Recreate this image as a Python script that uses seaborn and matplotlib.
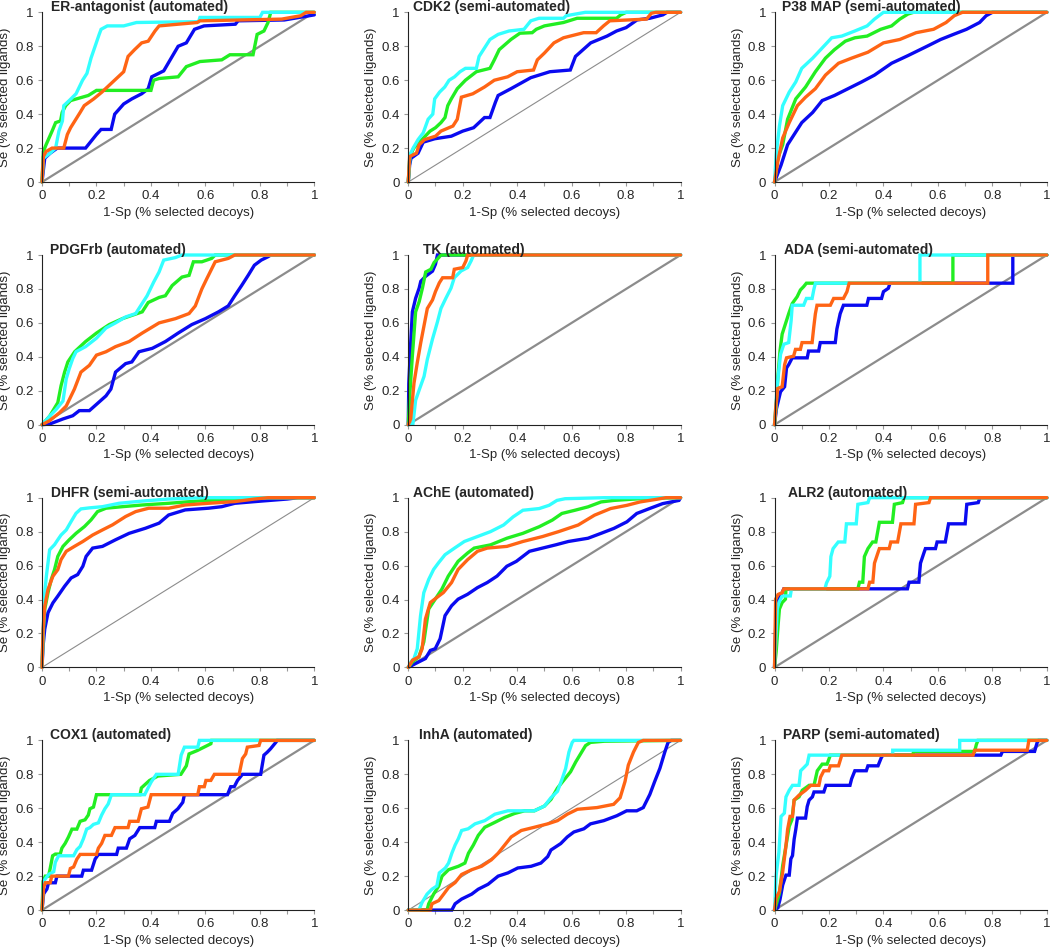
import numpy as np
import pandas as pd
import seaborn as sns
import matplotlib
matplotlib.use("Agg")
import matplotlib.pyplot as plt
from matplotlib.ticker import MultipleLocator, FuncFormatter

# ROC points (1-Sp, Se), one list per method and target
er_blue = [(0,0),(0.01,0.14),(0.03,0.17),(0.056,0.2),(0.16,0.2),(0.2,0.28),(0.217,0.31),(0.254,0.31),(0.267,0.4),(0.3,0.46),(0.33,0.49),(0.366,0.52),(0.39,0.55),(0.403,0.62),(0.447,0.655),(0.478,0.74),(0.5,0.8),(0.53,0.82),(0.56,0.9),(0.595,0.92),(0.71,0.93),(0.72,0.95),(0.89,0.955),(1.0,0.985)]
er_green = [(0,0),(0.005,0.18),(0.015,0.22),(0.037,0.3),(0.05,0.35),(0.068,0.36),(0.074,0.41),(0.087,0.45),(0.105,0.48),(0.17,0.51),(0.2,0.54),(0.4,0.54),(0.41,0.6),(0.43,0.61),(0.5,0.62),(0.53,0.68),(0.58,0.71),(0.66,0.72),(0.69,0.75),(0.775,0.75),(0.79,0.87),(0.815,0.89),(0.83,0.94),(0.84,1.0),(1,1)]
er_cyan = [(0,0),(0.005,0.14),(0.03,0.17),(0.05,0.2),(0.062,0.3),(0.075,0.36),(0.08,0.45),(0.1,0.48),(0.125,0.52),(0.14,0.57),(0.149,0.6),(0.165,0.64),(0.18,0.73),(0.195,0.8),(0.21,0.87),(0.217,0.9),(0.24,0.92),(0.3,0.92),(0.347,0.94),(0.575,0.945),(0.58,0.97),(0.8,0.97),(0.81,1.0),(1,1)]
er_orange = [(0,0),(0.005,0.15),(0.015,0.18),(0.037,0.2),(0.08,0.2),(0.093,0.28),(0.105,0.32),(0.14,0.41),(0.155,0.45),(0.19,0.49),(0.22,0.53),(0.26,0.59),(0.28,0.62),(0.3,0.65),(0.316,0.74),(0.34,0.78),(0.366,0.82),(0.39,0.83),(0.415,0.89),(0.43,0.92),(0.57,0.94),(0.58,0.95),(0.88,0.96),(0.95,0.98),(0.97,1.0),(1,1)]

cdk_blue = [(0,0),(0.005,0.1),(0.01,0.14),(0.036,0.17),(0.055,0.235),(0.097,0.255),(0.158,0.27),(0.2,0.3),(0.24,0.32),(0.28,0.38),(0.3,0.38),(0.32,0.47),(0.33,0.51),(0.377,0.55),(0.45,0.615),(0.52,0.65),(0.595,0.66),(0.614,0.74),(0.67,0.82),(0.73,0.86),(0.765,0.89),(0.8,0.91),(0.84,0.955),(0.887,0.965),(0.935,0.985),(0.95,1.0),(1,1)]
cdk_green = [(0,0),(0.006,0.15),(0.02,0.2),(0.05,0.25),(0.08,0.3),(0.1,0.32),(0.12,0.35),(0.135,0.38),(0.145,0.45),(0.158,0.49),(0.18,0.55),(0.21,0.6),(0.25,0.65),(0.3,0.67),(0.316,0.72),(0.334,0.78),(0.377,0.84),(0.41,0.877),(0.455,0.88),(0.47,0.9),(0.5,0.92),(0.57,0.94),(0.62,0.965),(0.765,0.965),(0.78,0.985),(0.8,1.0),(1,1)]
cdk_cyan = [(0,0),(0.006,0.16),(0.018,0.2),(0.036,0.25),(0.055,0.29),(0.073,0.37),(0.09,0.4),(0.097,0.49),(0.115,0.53),(0.134,0.56),(0.15,0.6),(0.17,0.62),(0.19,0.65),(0.21,0.67),(0.25,0.67),(0.26,0.74),(0.28,0.79),(0.3,0.84),(0.33,0.87),(0.37,0.89),(0.425,0.9),(0.45,0.95),(0.48,0.965),(0.57,0.965),(0.58,0.98),(0.65,1.0),(1,1)]
cdk_orange = [(0,0),(0.005,0.15),(0.03,0.17),(0.04,0.22),(0.06,0.25),(0.1,0.27),(0.12,0.3),(0.164,0.33),(0.18,0.37),(0.195,0.5),(0.237,0.52),(0.28,0.56),(0.316,0.6),(0.365,0.62),(0.4,0.65),(0.46,0.66),(0.474,0.72),(0.5,0.76),(0.535,0.82),(0.57,0.85),(0.644,0.88),(0.69,0.88),(0.717,0.92),(0.74,0.95),(0.875,0.96),(0.893,0.995),(0.91,1.0),(1,1)]

p38_blue = [(0,0),(0.024,0.1),(0.048,0.22),(0.072,0.28),(0.1,0.35),(0.14,0.41),(0.175,0.48),(0.22,0.51),(0.27,0.55),(0.32,0.59),(0.367,0.63),(0.43,0.7),(0.49,0.745),(0.56,0.8),(0.61,0.84),(0.657,0.87),(0.705,0.9),(0.753,0.94),(0.777,0.98),(0.8,1.0),(1,1)]
p38_green = [(0,0),(0.012,0.14),(0.03,0.22),(0.048,0.37),(0.078,0.49),(0.114,0.56),(0.15,0.65),(0.187,0.73),(0.22,0.78),(0.26,0.83),(0.295,0.85),(0.34,0.86),(0.39,0.9),(0.43,0.92),(0.46,0.96),(0.49,0.99),(0.51,1.0),(1,1)]
p38_cyan = [(0,0),(0.006,0.16),(0.018,0.33),(0.03,0.45),(0.054,0.53),(0.078,0.59),(0.1,0.67),(0.14,0.73),(0.175,0.79),(0.21,0.85),(0.247,0.86),(0.295,0.89),(0.34,0.92),(0.367,0.96),(0.4,1.0),(1,1)]
p38_orange = [(0,0),(0.012,0.12),(0.03,0.26),(0.054,0.35),(0.084,0.45),(0.114,0.5),(0.15,0.55),(0.187,0.63),(0.235,0.7),(0.283,0.73),(0.343,0.765),(0.4,0.82),(0.46,0.84),(0.52,0.88),(0.584,0.9),(0.63,0.94),(0.66,0.98),(0.69,1.0),(1,1)]

pdg_blue = [(0,0),(0.028,0.004),(0.077,0.034),(0.113,0.053),(0.137,0.083),(0.174,0.083),(0.2,0.12),(0.235,0.17),(0.253,0.21),(0.27,0.31),(0.307,0.36),(0.33,0.37),(0.356,0.43),(0.405,0.45),(0.453,0.49),(0.5,0.54),(0.55,0.59),(0.6,0.625),(0.648,0.665),(0.684,0.7),(0.708,0.76),(0.733,0.82),(0.757,0.88),(0.78,0.94),(0.805,0.97),(0.83,0.99),(0.84,1.0),(1,1)]
pdg_green = [(0,0),(0.028,0.05),(0.058,0.13),(0.07,0.23),(0.083,0.31),(0.095,0.37),(0.12,0.43),(0.16,0.49),(0.2,0.54),(0.247,0.59),(0.295,0.625),(0.368,0.665),(0.39,0.72),(0.43,0.75),(0.453,0.76),(0.478,0.82),(0.514,0.87),(0.54,0.88),(0.556,0.96),(0.587,0.96),(0.623,0.98),(0.636,1.0),(1,1)]
pdg_cyan = [(0,0),(0.028,0.05),(0.052,0.09),(0.077,0.14),(0.089,0.27),(0.1,0.33),(0.113,0.39),(0.125,0.43),(0.16,0.46),(0.2,0.51),(0.235,0.57),(0.27,0.6),(0.307,0.635),(0.344,0.655),(0.362,0.7),(0.386,0.76),(0.41,0.84),(0.43,0.9),(0.447,0.97),(0.49,0.985),(0.514,1.0),(1,1)]
pdg_orange = [(0,0),(0.028,0.024),(0.064,0.07),(0.089,0.11),(0.119,0.21),(0.143,0.31),(0.174,0.35),(0.2,0.41),(0.235,0.43),(0.27,0.46),(0.32,0.49),(0.368,0.54),(0.43,0.6),(0.49,0.625),(0.54,0.655),(0.563,0.7),(0.587,0.8),(0.605,0.86),(0.636,0.96),(0.684,0.98),(0.708,1.0),(1,1)]

tk_blue = [(0,0),(0.002,0.245),(0.009,0.485),(0.015,0.665),(0.027,0.745),(0.04,0.805),(0.046,0.845),(0.064,0.875),(0.089,0.905),(0.1,0.946),(0.107,1.0),(1,1)]
tk_green = [(0,0),(0.005,0.164),(0.015,0.405),(0.027,0.665),(0.04,0.725),(0.052,0.805),(0.064,0.9),(0.083,0.916),(0.095,0.956),(0.107,0.976),(0.12,1.0),(1,1)]
tk_cyan = [(0,0),(0.017,0.004),(0.027,0.144),(0.04,0.204),(0.058,0.285),(0.07,0.385),(0.089,0.505),(0.107,0.605),(0.12,0.685),(0.138,0.745),(0.157,0.805),(0.169,0.866),(0.194,0.906),(0.218,0.926),(0.231,0.966),(0.24,1.0),(1,1)]
tk_orange = [(0,0),(0.009,0.034),(0.021,0.245),(0.033,0.365),(0.046,0.485),(0.058,0.585),(0.07,0.685),(0.089,0.735),(0.1,0.785),(0.114,0.836),(0.126,0.866),(0.163,0.866),(0.169,0.916),(0.2,0.926),(0.212,0.966),(0.218,1.0),(1,1)]

ada_blue = [(0,0),(0.007,0.094),(0.022,0.194),(0.037,0.224),(0.044,0.334),(0.052,0.354),(0.065,0.394),(0.12,0.394),(0.125,0.434),(0.162,0.434),(0.168,0.484),(0.223,0.484),(0.229,0.564),(0.241,0.654),(0.253,0.704),(0.339,0.704),(0.345,0.744),(0.393,0.744),(0.4,0.784),(0.418,0.804),(0.424,0.834),(0.875,0.834),(0.875,1.0),(1,1)]
ada_green = [(0,0),(0.007,0.134),(0.012,0.274),(0.02,0.434),(0.028,0.534),(0.04,0.594),(0.052,0.654),(0.065,0.714),(0.083,0.754),(0.095,0.794),(0.107,0.814),(0.117,0.834),(0.655,0.834),(0.655,1.0),(1,1)]
ada_cyan = [(0,0),(0.01,0.234),(0.022,0.414),(0.034,0.474),(0.052,0.484),(0.061,0.614),(0.065,0.704),(0.107,0.704),(0.117,0.744),(0.138,0.744),(0.144,0.794),(0.15,0.834),(0.534,0.834),(0.534,1.0),(1,1)]
ada_orange = [(0,0),(0.005,0.114),(0.012,0.214),(0.028,0.224),(0.037,0.354),(0.044,0.394),(0.07,0.404),(0.077,0.444),(0.095,0.444),(0.101,0.484),(0.138,0.484),(0.144,0.574),(0.15,0.654),(0.156,0.704),(0.205,0.704),(0.217,0.744),(0.253,0.744),(0.266,0.784),(0.274,0.834),(0.783,0.834),(0.783,1.0),(1,1)]

dhfr_blue = [(0,0),(0.004,0.127),(0.01,0.225),(0.022,0.322),(0.04,0.38),(0.058,0.42),(0.083,0.478),(0.107,0.527),(0.131,0.547),(0.15,0.596),(0.162,0.654),(0.186,0.703),(0.222,0.713),(0.27,0.752),(0.32,0.79),(0.38,0.82),(0.43,0.85),(0.465,0.898),(0.526,0.928),(0.611,0.938),(0.66,0.947),(0.708,0.967),(0.805,0.98),(0.9,0.992),(0.94,1.0),(1,1)]
dhfr_green = [(0,0),(0.004,0.186),(0.01,0.342),(0.022,0.44),(0.034,0.518),(0.046,0.576),(0.058,0.654),(0.077,0.713),(0.1,0.752),(0.125,0.79),(0.156,0.83),(0.18,0.869),(0.204,0.918),(0.235,0.938),(0.295,0.947),(0.368,0.957),(0.465,0.967),(0.587,0.982),(0.708,0.992),(0.83,1.0),(1,1)]
dhfr_cyan = [(0,0),(0.004,0.205),(0.01,0.44),(0.016,0.537),(0.022,0.615),(0.028,0.693),(0.046,0.723),(0.058,0.752),(0.07,0.78),(0.089,0.81),(0.107,0.86),(0.125,0.908),(0.143,0.934),(0.174,0.94),(0.222,0.947),(0.283,0.967),(0.368,0.98),(0.465,0.992),(0.587,1.0),(1,1)]
dhfr_orange = [(0,0),(0.004,0.225),(0.01,0.36),(0.022,0.459),(0.04,0.537),(0.058,0.576),(0.07,0.635),(0.089,0.684),(0.119,0.713),(0.15,0.742),(0.186,0.78),(0.222,0.81),(0.259,0.84),(0.307,0.889),(0.344,0.918),(0.392,0.938),(0.465,0.938),(0.526,0.957),(0.611,0.967),(0.708,0.977),(0.78,0.992),(0.83,1.0),(1,1)]

ache_blue = [(0,0),(0.027,0.023),(0.063,0.052),(0.081,0.1),(0.099,0.11),(0.117,0.169),(0.135,0.305),(0.159,0.363),(0.183,0.402),(0.218,0.431),(0.254,0.47),(0.29,0.5),(0.326,0.538),(0.362,0.596),(0.397,0.625),(0.445,0.684),(0.493,0.703),(0.541,0.722),(0.588,0.742),(0.66,0.761),(0.708,0.79),(0.755,0.819),(0.803,0.858),(0.839,0.907),(0.886,0.936),(0.934,0.965),(0.994,0.984),(1,1)]
ache_green = [(0,0),(0.016,0.033),(0.039,0.062),(0.057,0.15),(0.075,0.344),(0.099,0.402),(0.123,0.46),(0.147,0.538),(0.183,0.625),(0.218,0.674),(0.242,0.703),(0.302,0.722),(0.362,0.761),(0.421,0.79),(0.481,0.829),(0.529,0.868),(0.564,0.907),(0.612,0.926),(0.66,0.946),(0.708,0.975),(0.755,0.984),(0.851,0.994),(1,1)]
ache_cyan = [(0,0),(0.01,0.033),(0.021,0.052),(0.033,0.11),(0.045,0.305),(0.057,0.44),(0.075,0.518),(0.093,0.577),(0.111,0.616),(0.135,0.664),(0.17,0.703),(0.206,0.742),(0.254,0.771),(0.302,0.8),(0.35,0.839),(0.385,0.887),(0.421,0.926),(0.481,0.936),(0.517,0.955),(0.546,0.984),(0.576,0.994),(0.72,1.0),(1,1)]
ache_orange = [(0,0),(0.016,0.043),(0.039,0.062),(0.051,0.11),(0.063,0.285),(0.081,0.382),(0.105,0.412),(0.129,0.441),(0.159,0.5),(0.183,0.577),(0.218,0.635),(0.254,0.684),(0.29,0.703),(0.362,0.713),(0.421,0.742),(0.493,0.771),(0.552,0.8),(0.624,0.839),(0.684,0.897),(0.743,0.936),(0.803,0.955),(0.851,0.975),(0.91,0.99),(0.946,1.0),(1,1)]

alr_blue = [(0,0),(0.006,0.344),(0.016,0.402),(0.028,0.44),(0.034,0.463),(0.488,0.463),(0.494,0.502),(0.53,0.502),(0.536,0.614),(0.548,0.672),(0.554,0.7),(0.591,0.7),(0.597,0.739),(0.627,0.739),(0.639,0.846),(0.7,0.846),(0.706,0.961),(0.748,0.971),(0.754,1.0),(1,1)]
alr_green = [(0,0),(0.006,0.093),(0.013,0.247),(0.018,0.344),(0.028,0.382),(0.04,0.402),(0.042,0.463),(0.306,0.463),(0.312,0.502),(0.324,0.502),(0.33,0.653),(0.343,0.7),(0.36,0.739),(0.372,0.739),(0.385,0.855),(0.433,0.855),(0.44,0.961),(0.47,0.971),(0.476,1.0),(1,1)]
alr_cyan = [(0,0),(0.01,0.344),(0.016,0.382),(0.028,0.421),(0.058,0.421),(0.062,0.463),(0.185,0.463),(0.191,0.498),(0.203,0.537),(0.207,0.653),(0.215,0.7),(0.234,0.739),(0.258,0.739),(0.264,0.846),(0.3,0.846),(0.306,0.961),(0.343,0.971),(0.349,1.0),(1,1)]
alr_orange = [(0,0),(0.004,0.402),(0.013,0.43),(0.028,0.44),(0.034,0.463),(0.343,0.463),(0.349,0.502),(0.361,0.502),(0.367,0.614),(0.379,0.672),(0.385,0.7),(0.421,0.7),(0.427,0.739),(0.452,0.739),(0.464,0.846),(0.512,0.846),(0.518,0.961),(0.567,0.971),(0.573,1.0),(1,1)]

cox_blue = [(0,0),(0.006,0.096),(0.018,0.124),(0.024,0.161),(0.049,0.161),(0.055,0.2),(0.146,0.2),(0.152,0.235),(0.182,0.235),(0.195,0.3),(0.207,0.328),(0.274,0.328),(0.28,0.365),(0.31,0.365),(0.322,0.42),(0.341,0.44),(0.359,0.486),(0.414,0.486),(0.42,0.523),(0.468,0.523),(0.48,0.57),(0.499,0.597),(0.517,0.635),(0.523,0.68),(0.681,0.68),(0.693,0.727),(0.706,0.727),(0.718,0.764),(0.736,0.8),(0.803,0.8),(0.815,0.913),(0.827,0.93),(0.839,0.95),(0.858,0.987),(0.864,1.0),(1,1)]
cox_green = [(0,0),(0.004,0.17),(0.012,0.2),(0.024,0.2),(0.03,0.245),(0.039,0.32),(0.049,0.33),(0.067,0.33),(0.073,0.365),(0.085,0.393),(0.097,0.43),(0.11,0.477),(0.128,0.477),(0.14,0.523),(0.158,0.532),(0.17,0.56),(0.176,0.597),(0.189,0.607),(0.2,0.68),(0.36,0.68),(0.365,0.72),(0.395,0.764),(0.426,0.79),(0.51,0.8),(0.53,0.85),(0.54,0.92),(0.57,0.94),(0.62,0.98),(0.623,1.0),(1,1)]
cox_cyan = [(0,0),(0.006,0.17),(0.024,0.21),(0.043,0.226),(0.049,0.282),(0.061,0.32),(0.116,0.32),(0.128,0.356),(0.14,0.375),(0.152,0.42),(0.164,0.477),(0.176,0.486),(0.189,0.505),(0.207,0.514),(0.219,0.56),(0.231,0.597),(0.243,0.625),(0.255,0.68),(0.377,0.68),(0.389,0.718),(0.401,0.755),(0.42,0.8),(0.5,0.8),(0.511,0.913),(0.523,0.96),(0.572,0.96),(0.578,1.0),(1,1)]
cox_orange = [(0,0),(0.006,0.134),(0.012,0.161),(0.03,0.161),(0.036,0.2),(0.097,0.2),(0.104,0.245),(0.116,0.254),(0.128,0.3),(0.14,0.328),(0.2,0.328),(0.207,0.365),(0.219,0.393),(0.231,0.44),(0.255,0.44),(0.268,0.486),(0.316,0.486),(0.322,0.523),(0.353,0.523),(0.365,0.597),(0.389,0.607),(0.401,0.68),(0.572,0.68),(0.578,0.727),(0.596,0.727),(0.602,0.764),(0.62,0.764),(0.633,0.8),(0.724,0.8),(0.736,0.893),(0.748,0.92),(0.754,0.96),(0.797,0.97),(0.803,1.0),(1,1)]

inh_blue = [(0,0),(0.16,0),(0.172,0.037),(0.196,0.065),(0.233,0.094),(0.257,0.123),(0.293,0.152),(0.33,0.2),(0.366,0.219),(0.402,0.248),(0.451,0.258),(0.487,0.277),(0.512,0.315),(0.524,0.354),(0.56,0.392),(0.584,0.431),(0.608,0.46),(0.645,0.479),(0.669,0.508),(0.718,0.527),(0.766,0.556),(0.802,0.585),(0.839,0.585),(0.863,0.604),(0.887,0.681),(0.905,0.758),(0.924,0.835),(0.942,0.931),(0.954,0.988),(0.966,1.0),(1,1)]
inh_green = [(0,0),(0.069,0),(0.075,0.037),(0.093,0.094),(0.112,0.142),(0.124,0.2),(0.148,0.238),(0.184,0.258),(0.208,0.277),(0.221,0.335),(0.239,0.383),(0.257,0.44),(0.281,0.488),(0.318,0.517),(0.354,0.546),(0.39,0.569),(0.427,0.585),(0.463,0.585),(0.5,0.613),(0.524,0.652),(0.548,0.719),(0.572,0.767),(0.596,0.815),(0.615,0.873),(0.633,0.921),(0.651,0.969),(0.669,0.988),(0.72,0.995),(1,1)]
inh_cyan = [(0,0),(0.039,0),(0.051,0.046),(0.069,0.094),(0.087,0.123),(0.105,0.142),(0.114,0.219),(0.136,0.248),(0.148,0.277),(0.16,0.335),(0.172,0.383),(0.184,0.421),(0.196,0.469),(0.22,0.479),(0.245,0.508),(0.281,0.527),(0.318,0.565),(0.366,0.585),(0.463,0.585),(0.5,0.613),(0.524,0.662),(0.548,0.7),(0.566,0.777),(0.578,0.835),(0.59,0.931),(0.602,0.988),(0.608,1.0),(1,1)]
inh_orange = [(0,0),(0.081,0),(0.087,0.037),(0.112,0.056),(0.13,0.094),(0.148,0.133),(0.172,0.162),(0.196,0.21),(0.233,0.238),(0.269,0.258),(0.305,0.296),(0.33,0.335),(0.354,0.383),(0.378,0.431),(0.415,0.469),(0.463,0.488),(0.512,0.508),(0.548,0.527),(0.584,0.565),(0.621,0.594),(0.693,0.604),(0.754,0.623),(0.778,0.662),(0.796,0.758),(0.808,0.854),(0.827,0.931),(0.845,0.988),(0.863,1.0),(1,1)]

parp_blue = [(0,0),(0.012,0.013),(0.02,0.062),(0.03,0.148),(0.042,0.206),(0.054,0.206),(0.06,0.302),(0.066,0.321),(0.072,0.417),(0.078,0.475),(0.084,0.542),(0.114,0.542),(0.12,0.61),(0.127,0.648),(0.139,0.667),(0.145,0.696),(0.181,0.696),(0.189,0.735),(0.277,0.735),(0.283,0.773),(0.295,0.821),(0.337,0.821),(0.343,0.85),(0.38,0.85),(0.392,0.898),(0.398,0.913),(0.831,0.913),(0.837,0.935),(0.955,0.935),(0.964,0.985),(0.97,1.0),(1,1)]
parp_green = [(0,0),(0.008,0.042),(0.018,0.1),(0.03,0.263),(0.042,0.379),(0.054,0.494),(0.064,0.533),(0.072,0.648),(0.09,0.667),(0.102,0.706),(0.127,0.735),(0.145,0.735),(0.157,0.821),(0.175,0.86),(0.193,0.86),(0.205,0.913),(0.506,0.913),(0.512,0.935),(0.735,0.935),(0.741,0.975),(0.747,1.0),(1,1)]
parp_cyan = [(0,0),(0.006,0.206),(0.016,0.34),(0.024,0.552),(0.036,0.571),(0.042,0.667),(0.054,0.706),(0.066,0.735),(0.09,0.735),(0.096,0.821),(0.108,0.84),(0.12,0.86),(0.127,0.913),(0.434,0.913),(0.434,0.942),(0.68,0.942),(0.68,1.0),(1,1)]
parp_orange = [(0,0),(0.006,0.071),(0.018,0.11),(0.03,0.225),(0.042,0.379),(0.048,0.475),(0.057,0.552),(0.066,0.552),(0.072,0.648),(0.09,0.677),(0.114,0.706),(0.133,0.735),(0.163,0.735),(0.169,0.783),(0.181,0.821),(0.199,0.821),(0.205,0.85),(0.235,0.85),(0.247,0.913),(0.729,0.913),(0.735,0.942),(0.928,0.942),(0.934,1.0),(1,1)]

titles = ["ER-antagonist (automated)", "CDK2 (semi-automated)", "P38 MAP (semi-automated)",
          "PDGFrb (automated)", "TK (automated)", "ADA (semi-automated)",
          "DHFR (semi-automated)", "AChE (automated)", "ALR2 (automated)",
          "COX1 (automated)", "InhA (automated)", "PARP (semi-automated)"]
curves = [
    (er_blue, er_green, er_cyan, er_orange),
    (cdk_blue, cdk_green, cdk_cyan, cdk_orange),
    (p38_blue, p38_green, p38_cyan, p38_orange),
    (pdg_blue, pdg_green, pdg_cyan, pdg_orange),
    (tk_blue, tk_green, tk_cyan, tk_orange),
    (ada_blue, ada_green, ada_cyan, ada_orange),
    (dhfr_blue, dhfr_green, dhfr_cyan, dhfr_orange),
    (ache_blue, ache_green, ache_cyan, ache_orange),
    (alr_blue, alr_green, alr_cyan, alr_orange),
    (cox_blue, cox_green, cox_cyan, cox_orange),
    (inh_blue, inh_green, inh_cyan, inh_orange),
    (parp_blue, parp_green, parp_cyan, parp_orange),
]
methods = ["blue", "green", "cyan", "orange"]
palette = {"blue": "#0A0AF0", "green": "#22EE22", "cyan": "#33FFFF", "orange": "#FF6414"}
# thin diagonal in a few panels
diag_lw = [1.6, 0.8, 1.6, 1.6, 1.6, 1.6, 0.8, 1.6, 1.6, 1.6, 0.8, 1.6]
title_x = [0.033, 0.018, 0.026, 0.03, 0.055, 0.033, 0.033, 0.018, 0.048, 0.03, 0.04, 0.03]

sns.set_style("ticks")
plt.rcParams["font.family"] = ["Liberation Sans", "DejaVu Sans"]

fig, axes = plt.subplots(4, 3, figsize=(10.5, 9.48), dpi=100)
fig.subplots_adjust(left=0.04, right=0.997, top=0.987, bottom=0.04, wspace=0.345, hspace=0.43)

for i, ax in enumerate(axes.flat):
    ax.plot([0, 1], [0, 1], color="#8C8C8C", lw=diag_lw[i], zorder=1)
    frames = []
    for name, pts in zip(methods, curves[i]):
        arr = np.array(pts)
        frames.append(pd.DataFrame({"x": arr[:, 0], "y": arr[:, 1], "method": name,
                                    "order": np.arange(len(arr))}))
    df = pd.concat(frames, ignore_index=True)
    sns.lineplot(data=df, x="x", y="y", hue="method", hue_order=methods, palette=palette,
                 units="method", estimator=None, sort=False, lw=2.4, legend=False, ax=ax)
    for ln in ax.lines:
        ln.set_clip_on(False)
        ln.set_solid_joinstyle("miter")

    ax.set_xlim(0, 1)
    ax.set_ylim(0, 1)
    ax.xaxis.set_major_locator(MultipleLocator(0.2))
    ax.xaxis.set_minor_locator(MultipleLocator(0.1))
    ax.yaxis.set_major_locator(MultipleLocator(0.2))
    fmt = FuncFormatter(lambda v, p: "%g" % round(v, 2))
    ax.xaxis.set_major_formatter(fmt)
    ax.yaxis.set_major_formatter(fmt)
    ax.tick_params(which="both", length=3, width=0.8, color="#999999", labelsize=9.5, pad=3)
    for s in ("top", "right"):
        ax.spines[s].set_visible(False)
    for s in ("left", "bottom"):
        ax.spines[s].set_color("#222222")
        ax.spines[s].set_linewidth(0.8)
    ax.set_xlabel("1-Sp (% selected decoys)", fontsize=9.5, labelpad=3)
    ax.set_ylabel("Se (% selected ligands)", fontsize=9.5, labelpad=3)
    ax.text(title_x[i], 1.03, titles[i], transform=ax.transAxes, fontsize=10,
            fontweight="bold", va="center", ha="left")

fig.savefig("out.png", dpi=100)
